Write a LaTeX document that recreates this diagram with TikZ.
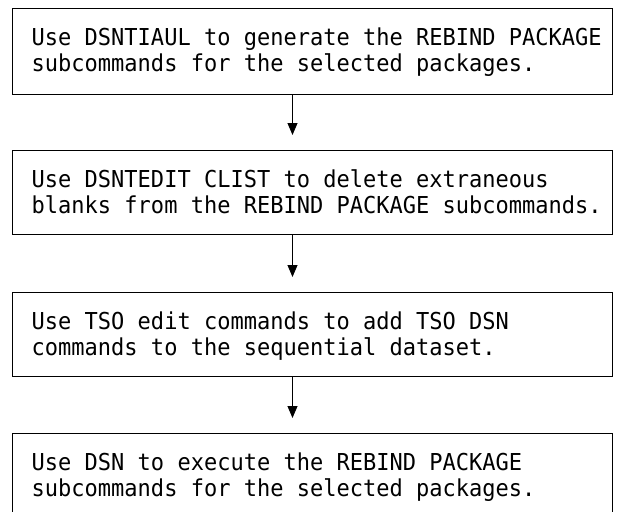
\documentclass[tikz,border=0pt]{standalone}
\usepackage{fontspec}
\setmonofont{DejaVu Sans Mono}[FakeStretch=0.945]
\usetikzlibrary{arrows.meta}
\newcommand{\firstln}{\rule{0pt}{19pt}}
\newcommand{\lastln}{\rule[-6pt]{0pt}{6pt}}
\newcommand{\tightlines}{\setlength{\lineskiplimit}{-50pt}}
\tikzset{
  stepbox/.style={draw, line width=1pt, rectangle, anchor=north west,
    minimum width=600pt, inner sep=0pt},
  steptext/.style={anchor=west, align=left, inner sep=0pt,
    font={\ttfamily\fontsize{23.3pt}{26.5pt}\selectfont\tightlines}},
  flow/.style={-{Triangle[width=10pt,length=12pt]}, line width=1pt, shorten >=15pt}
}
\begin{document}
\begin{tikzpicture}[x=1pt,y=-1pt]
\useasboundingbox (0,0) rectangle (618,511);
\clip (0,0) rectangle (618,511);
\node[stepbox, minimum height=86pt] (b1) at (12,8) {};
\node[stepbox, minimum height=84pt] (b2) at (12,150) {};
\node[stepbox, minimum height=84pt] (b3) at (12,292) {};
\node[stepbox, minimum height=90pt] (b4) at (12,433) {};
\node[steptext] (t1) at ([xshift=19.5pt,yshift=-43.75pt]b1.north west)
  {\firstln Use DSNTIAUL to generate the REBIND PACKAGE\\\lastln subcommands for the selected packages.};
\node[steptext] (t2) at ([xshift=19.5pt,yshift=-43.75pt]b2.north west)
  {\firstln Use DSNTEDIT CLIST to delete extraneous\\\lastln blanks from the REBIND PACKAGE subcommands.};
\node[steptext] (t3) at ([xshift=19.5pt,yshift=-43.75pt]b3.north west)
  {\firstln Use TSO edit commands to add TSO DSN\\\lastln commands to the sequential dataset.};
\node[steptext] (t4) at ([xshift=19.5pt,yshift=-43.75pt]b4.north west)
  {\firstln Use DSN to execute the REBIND PACKAGE\\\lastln subcommands for the selected packages.};
\draw[flow] ([xshift=-20pt]b1.south) -- ([xshift=-20pt]b2.north);
\draw[flow] ([xshift=-20pt]b2.south) -- ([xshift=-20pt]b3.north);
\draw[flow] ([xshift=-20pt]b3.south) -- ([xshift=-20pt]b4.north);
\end{tikzpicture}
\end{document}
